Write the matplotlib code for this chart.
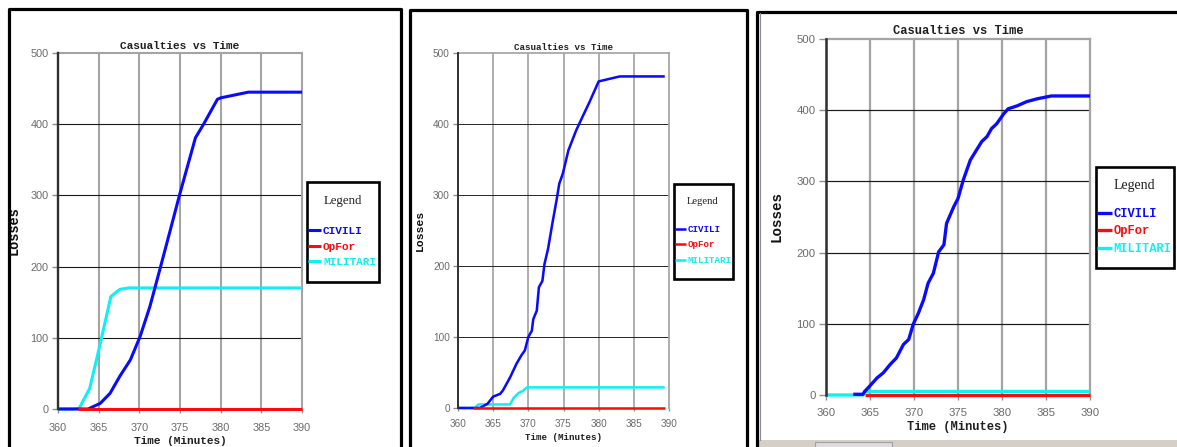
import matplotlib
matplotlib.use("Agg")
import matplotlib.pyplot as plt
from matplotlib import font_manager
from matplotlib.patches import Rectangle

# ---------------- data ----------------
series_names = ["CIVILI", "OpFor", "MILITARI"]
series_colors = ["#0a0aff", "#ff0a0a", "#10f0f0"]
x_ticks = [360, 365, 370, 375, 380, 385, 390]
y_ticks = [0, 100, 200, 300, 400, 500]
chart_title = "Casualties vs Time"
x_title = "Time (Minutes)"
y_title = "Losses"
legend_title = "Legend"

# panel 1
p1_civ_t = [360, 363.7, 365.2, 366.4, 367.6, 368.9, 370.1, 371.3, 372.5, 373.8, 375.0, 376.9, 377.9, 379.6, 380.0, 383.4, 390]
p1_civ_v = [0, 0, 8, 22, 46, 69, 102, 144, 195, 251, 303, 381, 400, 435, 437, 445, 445]
p1_opf_t = [362.5, 390]
p1_opf_v = [0, 0]
p1_mil_t = [360, 361.8, 362.6, 363.9, 365.2, 366.5, 367.6, 368.7, 390]
p1_mil_v = [0, 0, 1, 29, 92, 158, 168, 170, 170]

# panel 2
p2_civ_t = [360, 363.1, 364.2, 365.0, 366.0, 366.4, 367.4, 368.3, 369.0, 369.5, 370.0, 370.5, 370.7,
            371.2, 371.5, 372.0, 372.3, 372.8, 373.4, 374.0, 374.4, 374.9, 375.7, 376.8, 377.6,
            378.7, 380.0, 383.0, 389.4]
p2_civ_v = [0, 0, 6, 16, 20, 25, 43, 62, 74, 81, 100, 109, 125, 137, 170, 179, 203, 224, 259, 292,
            316, 330, 363, 391, 408, 431, 460, 467, 467]
p2_opf_t = [362.2, 389.4]
p2_opf_v = [0, 0]
p2_mil_t = [360, 362.4, 362.9, 367.4, 367.9, 368.6, 369.2, 369.8, 389.4]
p2_mil_v = [0, 0, 5, 5, 14, 21, 24, 29, 29]

# panel 3
p3_civ_t = [363.1, 364.2, 364.4, 365.0, 365.8, 366.5, 367.3, 368.0, 368.8, 369.4, 369.9, 370.5,
            371.1, 371.6, 372.2, 372.8, 373.4, 373.7, 374.5, 375.0, 375.6, 376.4, 377.1, 377.7,
            378.3, 378.8, 379.4, 380.2, 380.7, 381.7, 382.8, 384.0, 385.6, 390]
p3_civ_v = [1, 1, 5, 13, 24, 31, 43, 52, 71, 78, 99, 115, 134, 157, 171, 201, 211, 241, 264, 276,
            302, 330, 344, 356, 363, 374, 381, 395, 402, 406, 412, 416, 420, 420]
p3_opf_t = [364.4, 390]
p3_opf_v = [0, 0]
p3_mil_t = [360, 364.2, 364.4, 390]
p3_mil_v = [0, 0, 5, 5]

# ---------------- fonts ----------------
_names = {f.name for f in font_manager.fontManager.ttflist}
NARROW = "Liberation Sans Narrow" in _names
TICKFAM = "Liberation Sans Narrow" if NARROW else "Liberation Sans"
MONO = "Liberation Mono"
SERIF = "Liberation Serif"

W, H = 1177, 447
fig = plt.figure(figsize=(W / 100, H / 100), dpi=100)
fig.patch.set_facecolor("white")


def px_rect(x0, y0, x1, y1):
    return [x0 / W, 1 - y1 / H, (x1 - x0) / W, (y1 - y0) / H]


panels = [
    dict(data=[(p1_mil_t, p1_mil_v, 2), (p1_civ_t, p1_civ_v, 0), (p1_opf_t, p1_opf_v, 1)],
         ax=(58, 53, 302, 409), s=1.0, tick_pad=7.0, tick_fs=7.8,
         box=(307, 182, 379, 282), leg_title=(343, 201), leg_anchor=(308, 226), leg_fs=8.0,
         leg_sp=0.5, xlab_y=441, ylab_x=14, title_fs=8.0, ylab_fs=9.8),
    dict(data=[(p2_mil_t, p2_mil_v, 2), (p2_civ_t, p2_civ_v, 0), (p2_opf_t, p2_opf_v, 1)],
         ax=(458, 53, 669, 408), s=0.83, tick_pad=5.5, tick_fs=7.2,
         box=(674, 184, 733, 279), leg_title=(703, 202), leg_anchor=(675, 225), leg_fs=6.6,
         leg_sp=0.7, xlab_y=437, ylab_x=420, title_fs=6.6, ylab_fs=8.2),
    dict(data=[(p3_mil_t, p3_mil_v, 2), (p3_civ_t, p3_civ_v, 0), (p3_opf_t, p3_opf_v, 1)],
         ax=(826, 39, 1090, 395), s=1.08, tick_pad=6.0, tick_fs=8.2,
         box=(1096, 167, 1174, 268), leg_title=(1134, 186), leg_fs=8.7, leg_anchor=(1097, 208),
         leg_sp=0.45, xlab_y=427, ylab_x=777, title_fs=8.7, ylab_fs=10.3),
]

axes = []
for p in panels:
    x0, y0, x1, y1 = p["ax"]
    ax = fig.add_axes(px_rect(x0, y0, x1, y1))
    ax.set_facecolor("white")
    ax.set_xlim(360, 390)
    ax.set_ylim(0, 500)
    s = p["s"]
    for xv in x_ticks[1:-1]:
        ax.axvline(xv, color="#a4a4a4", lw=1.5 * s, zorder=1)
    for yv in y_ticks[1:-1]:
        ax.axhline(yv, color="#1a1a1a", lw=0.8 * s, zorder=1)
    handles = [None, None, None]
    for t, v, idx in p["data"]:
        ln, = ax.plot(t, v, color=series_colors[idx], lw=2.2 * s, clip_on=False, zorder=3,
                      solid_capstyle="butt", label=series_names[idx])
        handles[idx] = ln
    ax.spines["left"].set_color("#303030")
    ax.spines["left"].set_linewidth(1.7 * s)
    ax.spines["left"].set_zorder(4)
    for sp in ("top", "right"):
        ax.spines[sp].set_color("#a4a4a4")
        ax.spines[sp].set_linewidth(1.5 * s)
    ax.spines["bottom"].set_visible(False)
    ax.set_xticks(x_ticks)
    ax.set_yticks(y_ticks)
    ax.tick_params(axis="y", length=4.5 * s, width=1.0, color="#909090", pad=2.5 * s,
                   labelcolor="#6a6a6a", labelsize=p["tick_fs"])
    ax.tick_params(axis="x", length=3 * s, width=1.0, color="#909090", pad=p["tick_pad"],
                   labelcolor="#6a6a6a", labelsize=p["tick_fs"])
    for lab in ax.get_xticklabels() + ax.get_yticklabels():
        lab.set_family(TICKFAM)
    ax.set_title(chart_title, fontfamily=MONO, fontweight="bold", fontsize=p["title_fs"],
                 color="#202020", pad=3 * s)
    ax.set_xlabel(x_title, fontfamily=MONO, fontweight="bold", fontsize=p["title_fs"],
                  color="#202020")
    ax.xaxis.set_label_coords(0.5, (y1 - p["xlab_y"]) / (y1 - y0))
    ax.xaxis.label.set_va("center")
    ax.set_ylabel(y_title, fontfamily=MONO, fontweight="bold", fontsize=p["ylab_fs"],
                  color="#101010")
    ax.yaxis.set_label_coords((p["ylab_x"] - x0) / (x1 - x0), 0.5)
    ax.yaxis.label.set_va("center")
    p["handles"] = handles
    axes.append(ax)

# overlay for frames and legends
over = fig.add_axes([0, 0, 1, 1], facecolor="none", zorder=10)
over.set_xlim(0, W)
over.set_ylim(H, 0)
over.axis("off")

# screenshot frames
frame_kw = dict(color="black", lw=2.3, solid_capstyle="butt", clip_on=False)
over.plot([9, 9, 401, 401], [H + 2, 9, 9, H + 2], **frame_kw)
over.plot([410, 410, 747, 747], [H + 2, 10, 10, H + 2], **frame_kw)
over.plot([757, 757, W + 2], [H + 2, 12, 12], **frame_kw)
over.plot([759.5, 759.5], [13, 440], color="#8a8a9a", lw=0.8)
over.add_patch(Rectangle((758, 440), W - 758, 8, facecolor="#d4d0c8", edgecolor="none"))
over.add_patch(Rectangle((815, 442), 77, 6, facecolor="#dcdcdc", edgecolor="#a0a0a0", lw=0.8))

for p, ax in zip(panels, axes):
    bx0, by0, bx1, by1 = p["box"]
    over.add_patch(Rectangle((bx0, by0), bx1 - bx0, by1 - by0, facecolor="white",
                             edgecolor="black", lw=1.9))
    tx, ty = p["leg_title"]
    over.text(tx, ty, legend_title, ha="center", va="center", fontfamily=SERIF,
              fontsize=p["leg_fs"] * 1.15, color="#202020")
    leg = ax.legend(handles=p["handles"], labels=series_names, loc="upper left",
                    bbox_to_anchor=p["leg_anchor"], bbox_transform=over.transData,
                    frameon=False, handlelength=1.2, handletextpad=0.15,
                    labelspacing=p["leg_sp"], borderpad=0, borderaxespad=0,
                    labelcolor="linecolor",
                    prop=dict(family=MONO, weight="bold", size=p["leg_fs"]))
    leg.set_zorder(20)
    for h in leg.legend_handles:
        h.set_linewidth(2.2 * p["s"])
    ax.get_legend().remove()
    fig.add_artist(leg)

fig.savefig("out.png", dpi=100)
